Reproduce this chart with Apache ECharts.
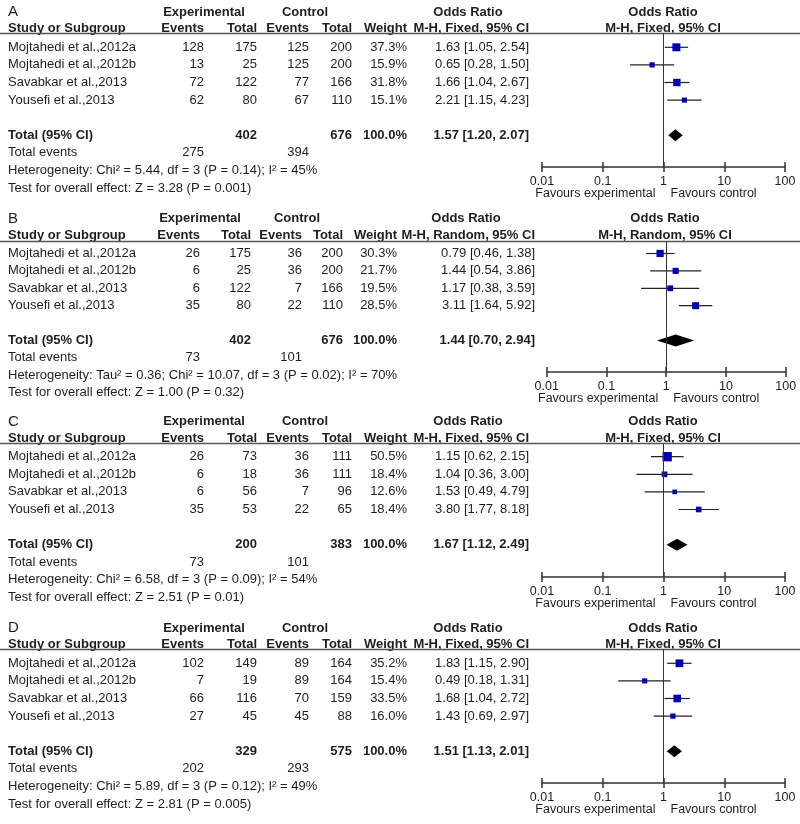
<!DOCTYPE html>
<html><head><meta charset="utf-8">
<script src="https://cdn.jsdelivr.net/npm/echarts@6/dist/echarts.min.js"></script>
<style>html,body{margin:0;padding:0;background:#fff}#c{width:800px;height:824px}</style>
</head><body><div id="c"></div>
<script>
// ---------- DATA ----------
const studies = ['Mojtahedi et al.,2012a', 'Mojtahedi et al.,2012b', 'Savabkar et al.,2013', 'Yousefi et al.,2013'];
const panelLetters = ['A', 'B', 'C', 'D'];
const methods = ['M-H, Fixed, 95% CI', 'M-H, Random, 95% CI', 'M-H, Fixed, 95% CI', 'M-H, Fixed, 95% CI'];
const tickLabels = ['0.01', '0.1', '1', '10', '100'];

// Panel A
const aExpEvents = [128, 13, 72, 62];
const aExpTotal = [175, 25, 122, 80];
const aCtlEvents = [125, 125, 77, 67];
const aCtlTotal = [200, 200, 166, 110];
const aWeight = [37.3, 15.9, 31.8, 15.1];
const aOR = [1.63, 0.65, 1.66, 2.21];
const aLo = [1.05, 0.28, 1.04, 1.15];
const aHi = [2.54, 1.50, 2.67, 4.23];
const aTotal = [402, 676];          // exp total, ctl total
const aTotalEvents = [275, 394];
const aPooled = [1.57, 1.20, 2.07];
const aHet = 'Heterogeneity: Chi² = 5.44, df = 3 (P = 0.14); I² = 45%';
const aTest = 'Test for overall effect: Z = 3.28 (P = 0.001)';

// Panel B
const bExpEvents = [26, 6, 6, 35];
const bExpTotal = [175, 25, 122, 80];
const bCtlEvents = [36, 36, 7, 22];
const bCtlTotal = [200, 200, 166, 110];
const bWeight = [30.3, 21.7, 19.5, 28.5];
const bOR = [0.79, 1.44, 1.17, 3.11];
const bLo = [0.46, 0.54, 0.38, 1.64];
const bHi = [1.38, 3.86, 3.59, 5.92];
const bTotal = [402, 676];
const bTotalEvents = [73, 101];
const bPooled = [1.44, 0.70, 2.94];
const bHet = 'Heterogeneity: Tau² = 0.36; Chi² = 10.07, df = 3 (P = 0.02); I² = 70%';
const bTest = 'Test for overall effect: Z = 1.00 (P = 0.32)';

// Panel C
const cExpEvents = [26, 6, 6, 35];
const cExpTotal = [73, 18, 56, 53];
const cCtlEvents = [36, 36, 7, 22];
const cCtlTotal = [111, 111, 96, 65];
const cWeight = [50.5, 18.4, 12.6, 18.4];
const cOR = [1.15, 1.04, 1.53, 3.80];
const cLo = [0.62, 0.36, 0.49, 1.77];
const cHi = [2.15, 3.00, 4.79, 8.18];
const cTotal = [200, 383];
const cTotalEvents = [73, 101];
const cPooled = [1.67, 1.12, 2.49];
const cHet = 'Heterogeneity: Chi² = 6.58, df = 3 (P = 0.09); I² = 54%';
const cTest = 'Test for overall effect: Z = 2.51 (P = 0.01)';

// Panel D
const dExpEvents = [102, 7, 66, 27];
const dExpTotal = [149, 19, 116, 45];
const dCtlEvents = [89, 89, 70, 45];
const dCtlTotal = [164, 164, 159, 88];
const dWeight = [35.2, 15.4, 33.5, 16.0];
const dOR = [1.83, 0.49, 1.68, 1.43];
const dLo = [1.15, 0.18, 1.04, 0.69];
const dHi = [2.90, 1.31, 2.72, 2.97];
const dTotal = [329, 575];
const dTotalEvents = [202, 293];
const dPooled = [1.51, 1.13, 2.01];
const dHet = 'Heterogeneity: Chi² = 5.89, df = 3 (P = 0.12); I² = 49%';
const dTest = 'Test for overall effect: Z = 2.81 (P = 0.005)';

// ---------- ASSEMBLY ----------
const panels = [
  {ee: aExpEvents, et: aExpTotal, ce: aCtlEvents, ct: aCtlTotal, w: aWeight, or: aOR, lo: aLo, hi: aHi, tot: aTotal, tev: aTotalEvents, pooled: aPooled, het: aHet, test: aTest},
  {ee: bExpEvents, et: bExpTotal, ce: bCtlEvents, ct: bCtlTotal, w: bWeight, or: bOR, lo: bLo, hi: bHi, tot: bTotal, tev: bTotalEvents, pooled: bPooled, het: bHet, test: bTest},
  {ee: cExpEvents, et: cExpTotal, ce: cCtlEvents, ct: cCtlTotal, w: cWeight, or: cOR, lo: cLo, hi: cHi, tot: cTotal, tev: cTotalEvents, pooled: cPooled, het: cHet, test: cTest},
  {ee: dExpEvents, et: dExpTotal, ce: dCtlEvents, ct: dCtlTotal, w: dWeight, or: dOR, lo: dLo, hi: dHi, tot: dTotal, tev: dTotalEvents, pooled: dPooled, het: dHet, test: dTest}
];

// layout (pixels)
const colsACD = {c: [204, 257, 309, 352, 407, 529], expC: 204, ctlC: 305, orHead: 468, forestC: 663};
const colsB = {c: [200, 251, 302, 343, 397, 535], expC: 200, ctlC: 297, orHead: 466, forestC: 665};
const layout = [
  {y0: 47.3, dy: 17.6, sepY: 33.5, axisY: 167, x0: 542, x1: 785, cols: colsACD},
  {y0: 253.5, dy: 17.4, sepY: 241.5, axisY: 372, x0: 546.7, x1: 785.7, cols: colsB},
  {y0: 456.7, dy: 17.6, sepY: 443.5, axisY: 577, x0: 542, x1: 785, cols: colsACD},
  {y0: 663.3, dy: 17.6, sepY: 649.5, axisY: 783, x0: 542, x1: 785, cols: colsACD}
];

const FONT = '"Liberation Sans", Arial, sans-serif';
const TXT = '#1e1e1e';
function T(x, y, text, align, bold, size) {
  return {type: 'text', silent: true, x: x, y: y, style: {
    text: String(text), fill: TXT, fontFamily: FONT, fontSize: size || 13,
    fontWeight: bold ? 'bold' : 'normal', align: align || 'left', verticalAlign: 'middle'}};
}
const fmtCI = (o, l, h) => o.toFixed(2) + ' [' + l.toFixed(2) + ', ' + h.toFixed(2) + ']';

const graphics = [];
const grids = [], xAxes = [], yAxes = [], series = [];

panels.forEach((p, k) => {
  const L = layout[k], C = L.cols.c, y0 = L.y0, dy = L.dy;
  const ry = i => y0 + i * dy;
  // headers
  graphics.push(T(8, ry(-2), panelLetters[k], 'left', false, 15));
  graphics.push(T(L.cols.expC, ry(-2), 'Experimental', 'center', true));
  graphics.push(T(L.cols.ctlC, ry(-2), 'Control', 'center', true));
  graphics.push(T(L.cols.orHead, ry(-2), 'Odds Ratio', 'center', true));
  graphics.push(T(L.cols.forestC, ry(-2), 'Odds Ratio', 'center', true));
  const h2 = ry(-1.05);
  graphics.push(T(8, h2, 'Study or Subgroup', 'left', true));
  graphics.push(T(C[0], h2, 'Events', 'right', true));
  graphics.push(T(C[1], h2, 'Total', 'right', true));
  graphics.push(T(C[2], h2, 'Events', 'right', true));
  graphics.push(T(C[3], h2, 'Total', 'right', true));
  graphics.push(T(C[4], h2, 'Weight', 'right', true));
  graphics.push(T(C[5], h2, methods[k], 'right', true));
  graphics.push(T(L.cols.forestC, h2, methods[k], 'center', true));
  graphics.push({type: 'line', silent: true, shape: {x1: 0, y1: L.sepY, x2: 800, y2: L.sepY},
    style: {stroke: '#555', lineWidth: 1.5}});
  // rows
  studies.forEach((s, i) => {
    const y = ry(i);
    graphics.push(T(8, y, s));
    graphics.push(T(C[0], y, p.ee[i], 'right'));
    graphics.push(T(C[1], y, p.et[i], 'right'));
    graphics.push(T(C[2], y, p.ce[i], 'right'));
    graphics.push(T(C[3], y, p.ct[i], 'right'));
    graphics.push(T(C[4], y, p.w[i].toFixed(1) + '%', 'right'));
    graphics.push(T(C[5], y, fmtCI(p.or[i], p.lo[i], p.hi[i]), 'right'));
  });
  const yt = ry(5);
  graphics.push(T(8, yt, 'Total (95% CI)', 'left', true));
  graphics.push(T(C[1], yt, p.tot[0], 'right', true));
  graphics.push(T(C[3], yt, p.tot[1], 'right', true));
  graphics.push(T(C[4], yt, '100.0%', 'right', true));
  graphics.push(T(C[5], yt, fmtCI(p.pooled[0], p.pooled[1], p.pooled[2]), 'right', true));
  graphics.push(T(8, ry(6), 'Total events'));
  graphics.push(T(C[0], ry(6), p.tev[0], 'right'));
  graphics.push(T(C[2], ry(6), p.tev[1], 'right'));
  graphics.push(T(8, ry(7), p.het));
  graphics.push(T(8, ry(8), p.test));
  // favours labels
  const xOne = L.x0 + (L.x1 - L.x0) / 2;
  graphics.push(T(xOne - 8, L.axisY + 27, 'Favours experimental', 'right', false, 12.5));
  graphics.push(T(xOne + 7, L.axisY + 27, 'Favours control', 'left', false, 12.5));

  // forest grid
  grids.push({left: L.x0, width: L.x1 - L.x0, top: L.sepY, height: L.axisY - L.sepY, containLabel: false});
  yAxes.push({gridIndex: k, type: 'value', inverse: true, show: false,
    min: (L.sepY - y0) / dy, max: (L.axisY - y0) / dy});
  const data = studies.map((s, i) => [p.or[i], p.lo[i], p.hi[i], i, p.w[i], 0]);
  data.push([p.pooled[0], p.pooled[1], p.pooled[2], 5, 100, 1]);
  series.push({
    type: 'custom', xAxisIndex: k, yAxisIndex: k, data: data, silent: true,
    encode: {x: [0, 1, 2], y: 3},
    renderItem: function (params, api) {
      const o = api.value(0), lo = api.value(1), hi = api.value(2), row = api.value(3), w = api.value(4), kind = api.value(5);
      const pc = api.coord([o, row]), pl = api.coord([lo, row]), ph = api.coord([hi, row]);
      if (kind === 1) {
        const h = 6;
        return {type: 'polygon', shape: {points: [[pl[0], pc[1]], [pc[0], pc[1] - h], [ph[0], pc[1]], [pc[0], pc[1] + h]]},
          style: {fill: '#000'}};
      }
      const s = 1.31 * Math.sqrt(w);
      return {type: 'group', children: [
        {type: 'line', shape: {x1: pl[0], y1: pc[1], x2: ph[0], y2: pc[1]}, style: {stroke: '#222', lineWidth: 1.2}},
        {type: 'rect', shape: {x: pc[0] - s / 2, y: pc[1] - s / 2, width: s, height: s}, style: {fill: '#0000b4'}}
      ]};
    },
    markLine: {silent: true, symbol: 'none', label: {show: false},
      lineStyle: {color: '#333', width: 1, type: 'solid'}, data: [{xAxis: 1}]},
    z: 3
  });
});

const labelFmt = v => tickLabels[Math.round(Math.log10(v)) + 2];
panels.forEach((p, k) => {
  xAxes.push({gridIndex: k, type: 'log', logBase: 10, min: 0.01, max: 100, position: 'bottom',
    splitLine: {show: false},
    axisLine: {show: true, onZero: false, lineStyle: {color: '#333', width: 1.5}},
    axisTick: {show: true, inside: false, length: 5, lineStyle: {color: '#333', width: 1.5}},
    axisLabel: {formatter: labelFmt, fontSize: 12.5, color: TXT, fontFamily: FONT, margin: 8}});
});
panels.forEach((p, k) => {
  xAxes.push({gridIndex: k, type: 'log', logBase: 10, min: 0.01, max: 100, position: 'bottom', offset: 0,
    splitLine: {show: false}, axisLine: {show: false, onZero: false},
    axisTick: {show: true, inside: true, length: 5, lineStyle: {color: '#333', width: 1.5}},
    axisLabel: {show: false}});
});

const chart = echarts.init(document.getElementById('c'), null, {renderer: 'canvas'});
chart.setOption({
  animation: false,
  backgroundColor: '#fff',
  grid: grids, xAxis: xAxes, yAxis: yAxes, series: series,
  graphic: {elements: graphics}
});
</script>
</body></html>
